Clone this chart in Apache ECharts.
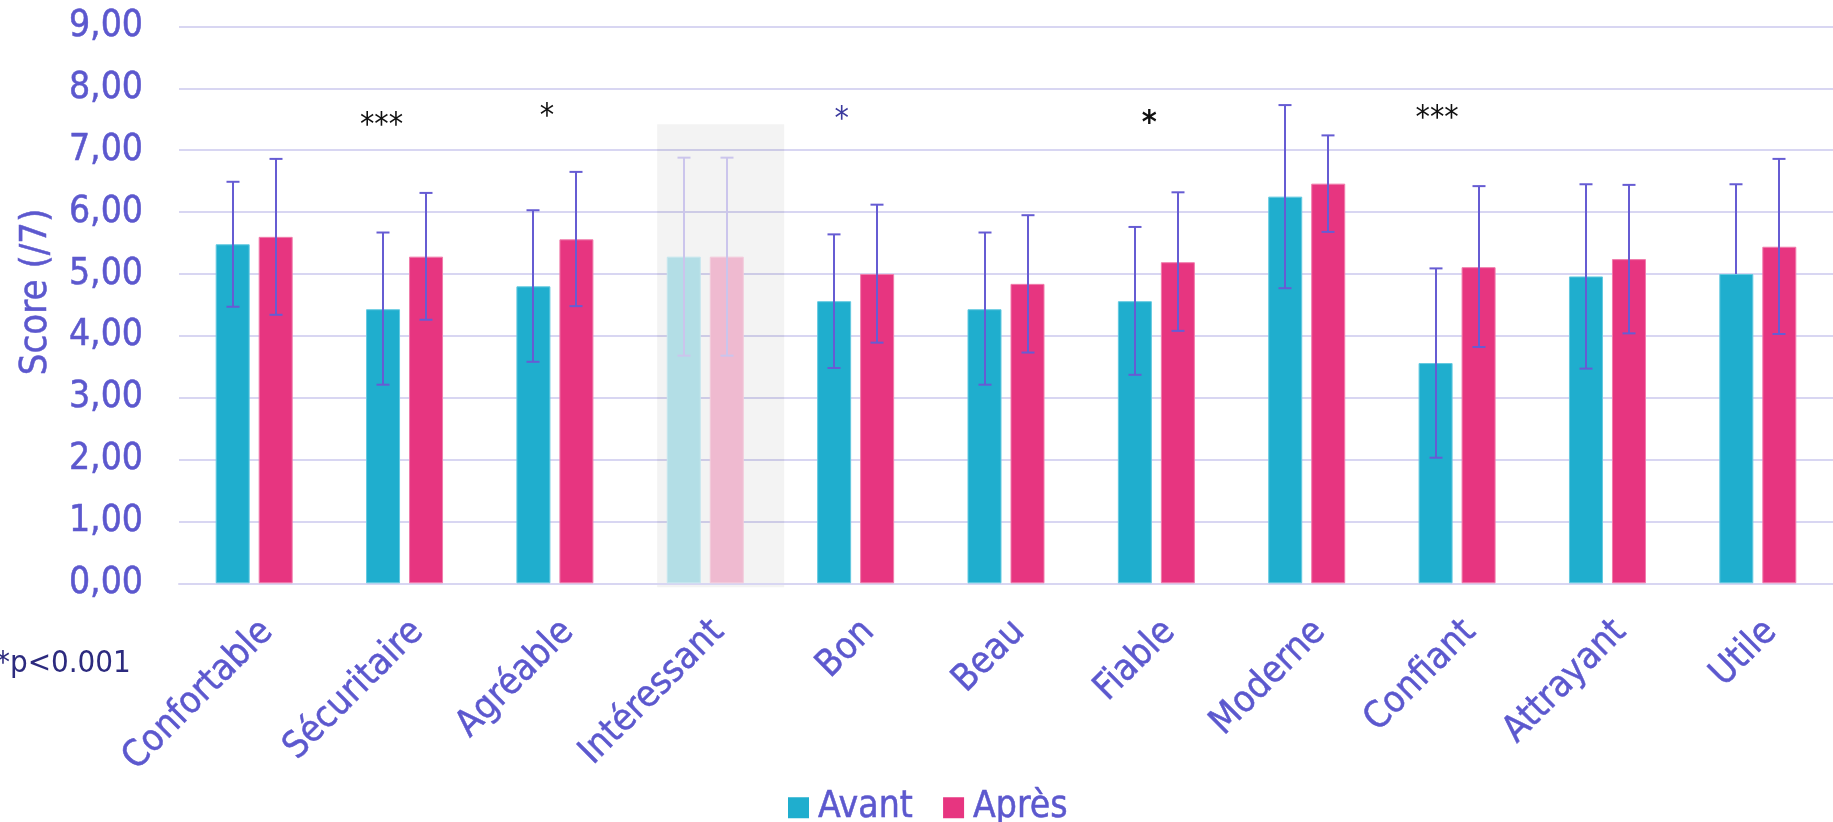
<!DOCTYPE html>
<html>
<head>
<meta charset="utf-8">
<script src="https://cdn.jsdelivr.net/npm/echarts@6/dist/echarts.min.js"></script>
<style>
  html, body { margin: 0; padding: 0; background: #fff; }
  #chart { width: 1833px; height: 822px; }
</style>
</head>
<body>
<div id="chart"></div>
<script>
// Mean scores (/7) before and after, with standard deviations
const categories = ['Confortable', 'Sécuritaire', 'Agréable', 'Intéressant', 'Bon', 'Beau',
                    'Fiable', 'Moderne', 'Confiant', 'Attrayant', 'Utile'];
const avant      = [5.48, 4.43, 4.80, 5.28, 4.56, 4.43, 4.56, 6.25, 3.56, 4.96, 5.00];
const apres      = [5.60, 5.28, 5.56, 5.28, 5.00, 4.84, 5.19, 6.46, 5.11, 5.24, 5.44];
const avantPlus  = [1.01, 1.24, 1.23, 1.60, 1.08, 1.24, 1.20, 1.48, 1.53, 1.49, 1.45];
const avantMinus = [1.01, 1.22, 1.22, 1.60, 1.08, 1.22, 1.19, 1.48, 1.53, 1.49, 0];
const apresPlus  = [1.26, 1.03, 1.09, 1.60, 1.12, 1.11, 1.13, 0.78, 1.31, 1.20, 1.42];
const apresMinus = [1.26, 1.02, 1.08, 1.60, 1.11, 1.11, 1.11, 0.78, 1.29, 1.20, 1.41];
// Significance markers and the height at which they sit
const sigText    = ['', '***', '*', '', '*', '', '*', '', '***', '', ''];
const sigLevel   = [0, 7.51, 7.66, 0, 7.61, 0, 7.54, 0, 7.62, 0, 0];
const yTicks     = [0, 1, 2, 3, 4, 5, 6, 7, 8, 9];
const dimmed     = 'Intéressant';
const dimmedTop  = 7.42;

// Look and layout
const FONT = '"DejaVu Sans Condensed", "DejaVu Sans", sans-serif';
const TEXT = '#5C58CE';
const GRID = '#D8D6F2';
const C_AVANT = '#1FAECE', C_APRES = '#E73580';
const C_AVANT_DIM = '#B3DEE6', C_APRES_DIM = '#EFBAD0';
const ERR = '#665CD3', ERR_DIM = '#CBC5EC';
const BAR_W = 34, BAR_GAP = 9, CAP = 13;
const sigShift = [0, -23, -8, 0, -14, 0, -7, 0, -20, 0, 0];
const sigColor = ['', '#111', '#111', '', '#3B3A9E', '', '#111', '', '#111', '', ''];
const sigWeight = ['', 'normal', 'normal', '', 'normal', '', 'bold', '', 'normal', '', ''];
// slight stroke so the labels carry the same weight
const heavy = { textBorderColor: TEXT, textBorderWidth: 0.5 };

const dimIdx = categories.indexOf(dimmed);

function barData(vals, col, dimCol, border, dimBorder) {
  return vals.map((v, i) => ({
    value: v,
    itemStyle: i === dimIdx
      ? { color: dimCol, borderColor: dimBorder, borderWidth: 1 }
      : { color: col, borderColor: border, borderWidth: 1 }
  }));
}

function errData(vals, plus, minus) {
  return vals.map((v, i) => [i, v - minus[i], v + plus[i], minus[i] > 0 ? 1 : 0]);
}

function errRender(side) {
  return function (params, api) {
    const i = api.value(0);
    const hi = api.coord([i, api.value(2)]);
    const lo = api.coord([i, api.value(1)]);
    const x = Math.round(hi[0] + side * (BAR_W + BAR_GAP) / 2);
    const stroke = i === dimIdx ? ERR_DIM : ERR;
    const st = { stroke: stroke, lineWidth: 2 };
    const kids = [
      { type: 'line', shape: { x1: x, y1: hi[1], x2: x, y2: lo[1] }, style: st },
      { type: 'line', shape: { x1: x - CAP / 2, y1: hi[1], x2: x + CAP / 2, y2: hi[1] }, style: st }
    ];
    if (api.value(3)) {
      kids.push({ type: 'line', shape: { x1: x - CAP / 2, y1: lo[1], x2: x + CAP / 2, y2: lo[1] }, style: st });
    }
    return { type: 'group', children: kids };
  };
}

const chart = echarts.init(document.getElementById('chart'), null, { renderer: 'canvas' });

chart.setOption({
  animation: false,
  backgroundColor: '#fff',
  textStyle: { fontFamily: FONT },
  grid: { left: 179, right: -14, top: 26.5, bottom: 238.7, containLabel: false },
  legend: {
    data: ['Avant', 'Après'],
    left: 783, top: 784,
    icon: 'rect', itemWidth: 21, itemHeight: 21, itemGap: 30,
    textStyle: Object.assign({ color: TEXT, fontSize: 37, fontFamily: FONT, padding: [0, 0, 0, 4] }, heavy)
  },
  xAxis: {
    type: 'category',
    data: categories,
    boundaryGap: true,
    axisLine: { show: true, lineStyle: { color: GRID, width: 2 } },
    axisTick: { show: false },
    axisLabel: Object.assign({
      interval: 0, rotate: 45, margin: 30,
      align: 'right', verticalAlign: 'top',
      color: TEXT, fontSize: 37, fontFamily: FONT
    }, heavy)
  },
  yAxis: {
    type: 'value',
    min: yTicks[0], max: yTicks[yTicks.length - 1], interval: 1,
    name: 'Score (/7)',
    nameLocation: 'middle', nameGap: 124,
    nameTextStyle: Object.assign({ color: TEXT, fontSize: 38, fontFamily: FONT, padding: [0, 0, 0, 26] }, heavy),
    axisLine: { show: false },
    axisTick: { show: false },
    splitLine: { lineStyle: { color: GRID, width: 2 } },
    axisLabel: Object.assign({
      margin: 36, color: TEXT, fontSize: 37, fontFamily: FONT,
      formatter: v => v.toFixed(2).replace('.', ',')
    }, heavy)
  },
  graphic: [{
    type: 'text', left: -4, top: 648, z: 10,
    style: { text: '*p<0.001', fill: '#2C2A7E', font: '31px ' + FONT }
  }],
  series: [
    {
      // grey band behind the dimmed category
      type: 'custom', name: 'band', z: 0, silent: true,
      data: [[dimIdx, dimmedTop]],
      renderItem: function (params, api) {
        const top = api.coord([api.value(0), api.value(1)]);
        const base = api.coord([api.value(0), 0]);
        const band = api.size([1, 0])[0];
        return {
          type: 'rect',
          shape: { x: top[0] - band * 0.32, y: top[1], width: band * 0.845, height: base[1] - top[1] + 4 },
          style: { fill: 'rgba(0,0,0,0.047)' }
        };
      }
    },
    {
      name: 'Avant', type: 'bar', barWidth: BAR_W, barGap: (BAR_GAP / BAR_W * 100) + '%', z: 2,
      itemStyle: { color: C_AVANT },
      data: barData(avant, C_AVANT, C_AVANT_DIM, '#63C9E0', '#C6E7EE')
    },
    {
      name: 'Après', type: 'bar', barWidth: BAR_W, z: 2,
      itemStyle: { color: C_APRES },
      data: barData(apres, C_APRES, C_APRES_DIM, '#F07CAB', '#F3CADB')
    },
    {
      type: 'custom', name: 'errAvant', z: 4, silent: true,
      encode: { x: 0, y: [1, 2] },
      data: errData(avant, avantPlus, avantMinus),
      renderItem: errRender(-1)
    },
    {
      type: 'custom', name: 'errApres', z: 4, silent: true,
      encode: { x: 0, y: [1, 2] },
      data: errData(apres, apresPlus, apresMinus),
      renderItem: errRender(1)
    },
    {
      type: 'custom', name: 'sig', z: 5, silent: true,
      data: sigText.map((t, i) => [i, sigLevel[i]]).filter((d, i) => sigText[i] !== ''),
      renderItem: function (params, api) {
        const i = api.value(0);
        const p = api.coord([i, api.value(1)]);
        return {
          type: 'text',
          x: p[0] + sigShift[i], y: p[1] + 7,
          style: {
            text: sigText[i], fill: sigColor[i],
            font: sigWeight[i] + ' 32px ' + FONT,
            align: 'center', verticalAlign: 'middle'
          }
        };
      }
    }
  ]
});
</script>
</body>
</html>
